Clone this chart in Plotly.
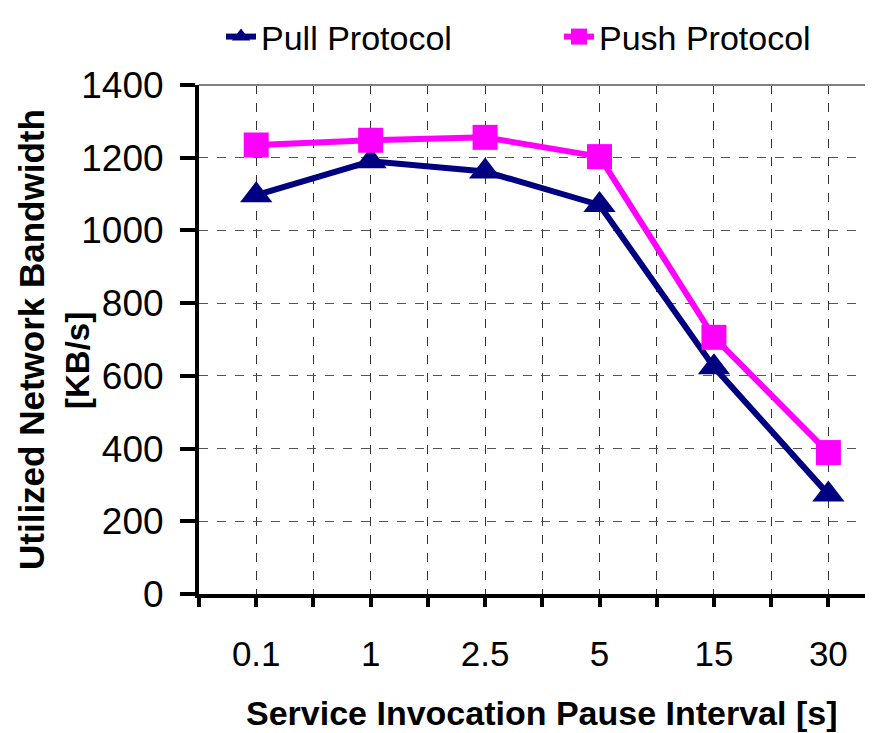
import plotly.graph_objects as go

categories = ["0.1", "1", "2.5", "5", "15", "30"]
pull_values = [1097, 1190, 1162, 1070, 624, 274]
push_values = [1235, 1248, 1256, 1203, 706, 389]
y_ticks = [0, 200, 400, 600, 800, 1000, 1200, 1400]

# page has an 8px body margin; figure is sized to fit the window
W, H = 865, 725
L, T, PW, PH = 191, 77, 674, 509


def px(xw):
    return (xw - 8 - L) / PW


def py(yw):
    return (T + PH - (yw - 8)) / PH


xpos = list(range(len(categories)))
tickvals = []
ticktext = []
for i, c in enumerate(categories):
    tickvals += [i - 0.5, i]
    ticktext += ["", c]
tickvals.append(len(categories) - 0.5)
ticktext.append("")

fig = go.Figure()
fig.add_trace(go.Scatter(
    x=xpos, y=pull_values, name="Pull Protocol", mode="lines+markers",
    line=dict(color="#000080", width=6),
    marker=dict(symbol="triangle-up", size=28, color="#000080"),
    legend="legend",
))
fig.add_trace(go.Scatter(
    x=xpos, y=push_values, name="Push Protocol", mode="lines+markers",
    line=dict(color="#FF00FF", width=6),
    marker=dict(symbol="square", size=25, color="#FF00FF"),
    legend="legend2",
))

font = "Liberation Sans, Arial, sans-serif"
leg_common = dict(yref="container", y=1.009, yanchor="top", xanchor="left",
                  font=dict(size=34), itemsizing="trace", bgcolor="rgba(0,0,0,0)")
fig.update_layout(
    width=W, height=H,
    margin=dict(l=L, r=W - L - PW, t=T, b=H - T - PH, autoexpand=False),
    plot_bgcolor="white", paper_bgcolor="white",
    font=dict(family=font, color="black"),
    showlegend=True,
    legend=dict(x=px(221), **leg_common),
    legend2=dict(x=px(559), **leg_common),
    xaxis=dict(
        range=[-0.5, 5.39], tickmode="array", tickvals=tickvals, ticktext=ticktext,
        showgrid=True, gridcolor="#333333", griddash="dash", gridwidth=1,
        showline=True, linecolor="black", linewidth=4,
        ticks="outside", ticklen=9, tickwidth=4, tickcolor="black",
        tickfont=dict(size=35), zeroline=False, automargin=False,
        ticklabelstandoff=17,
    ),
    yaxis=dict(
        range=[0, 1400], tickmode="array", tickvals=y_ticks,
        showgrid=True, gridcolor="#555555", griddash="dash", gridwidth=1,
        showline=True, linecolor="black", linewidth=4,
        ticks="outside", ticklen=15, tickwidth=4, tickcolor="black",
        tickfont=dict(size=37), zeroline=False, automargin=False,
        ticklabelstandoff=9,
    ),
    shapes=[dict(type="line", xref="paper", yref="paper", x0=0, x1=1, y0=1, y1=1,
                 line=dict(color="#808080", width=2))],
    annotations=[
        dict(text="<b>Utilized Network Bandwidth</b>", textangle=-90,
             xref="paper", yref="paper", x=px(31), y=py(340),
             xanchor="center", yanchor="middle", showarrow=False,
             font=dict(size=35)),
        dict(text="<b>[KB/s]</b>", textangle=-90,
             xref="paper", yref="paper", x=px(77), y=py(361),
             xanchor="center", yanchor="middle", showarrow=False,
             font=dict(size=33)),
        dict(text="<b>Service Invocation Pause Interval [s]</b>",
             xref="paper", yref="paper", x=px(541), y=py(713),
             xanchor="center", yanchor="middle", showarrow=False,
             font=dict(size=34)),
    ],
)

fig.write_html("out.html")
